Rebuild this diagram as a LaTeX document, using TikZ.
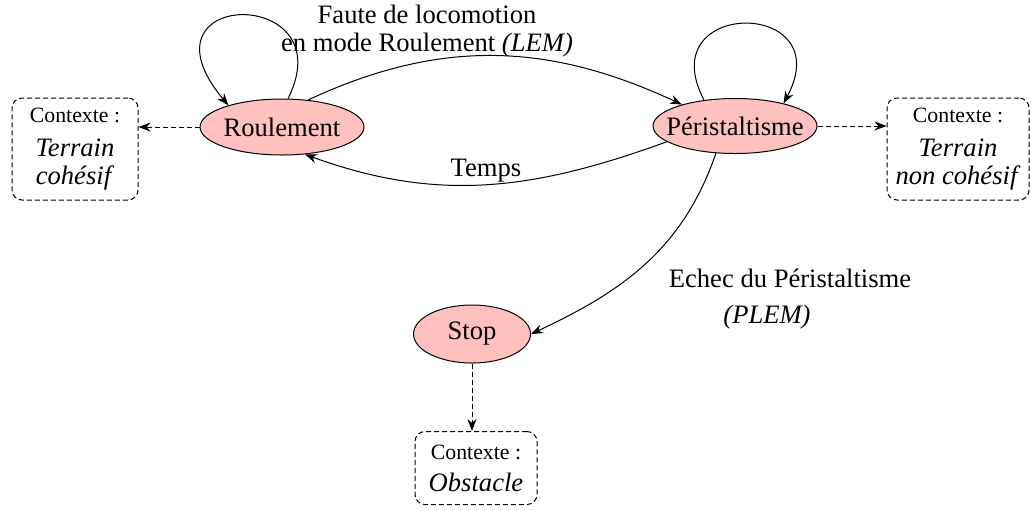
\documentclass[tikz,border=0pt]{standalone}
\usepackage{fontspec}
\setmainfont{Liberation Serif}
\usetikzlibrary{shapes.geometric,arrows.meta}
\definecolor{statepink}{RGB}{255,192,192}
\tikzset{
  state/.style={draw, ellipse, fill=statepink, inner sep=0pt, font=\fontsize{13.3}{16}\selectfont},
  ctx/.style={draw, dash pattern=on 2.5pt off 1.5pt, rounded corners=5pt, align=center, inner sep=0pt, font=\fontsize{13.3}{14}\selectfont},
  ctxlink/.style={->, dash pattern=on 2.5pt off 1.5pt},
  lbl/.style={align=center, font=\fontsize{13.3}{14}\selectfont}
}
\newcommand{\ctxhead}{{\fontsize{10.9}{12}\selectfont Contexte :}}
\begin{document}
\begin{tikzpicture}[x=0.5pt, y=0.5pt, line width=0.5pt, >={Stealth[length=6pt,width=4.5pt]}]
\useasboundingbox (0,0) rectangle (1031,-510);

% etats
\node[state, minimum width=82pt, minimum height=28pt] (rou) at (282,-127) {\makebox[0pt]{Roulement}};
\node[state, minimum width=82pt, minimum height=27.5pt] (per) at (735,-126) {\makebox[0pt]{Péristaltisme}};
\node[state, minimum width=58.5pt, minimum height=29pt] (stop) at (472,-334) {\makebox[0pt]{Stop}};

% contextes
\node[ctx, minimum width=63pt, minimum height=51pt] (ctxl) at (75,-149) {\ctxhead\\[3pt] \textit{Terrain}\\ \textit{cohésif}};
\node[ctx, minimum width=71pt, minimum height=51pt] (ctxr) at (958,-149) {\ctxhead\\[3pt] \textit{Terrain}\\ \textit{non cohésif}};
\node[ctx, minimum width=61pt, minimum height=36.5pt] (ctxb) at (476,-468) {\ctxhead\\[2pt] \textit{Obstacle}};

% transitions
\draw[->] (rou.78) .. controls (345,15) and (130,12) .. (rou.158);
\draw[->] (per.140) .. controls (650,2) and (840,2) .. (per.25);
\draw[->] (rou.46) to[out=25, in=155] (per.158);
\draw[->] (per.193) to[out=200, in=-20] node[lbl, above, inner sep=1pt] (tmp) {Temps} (rou.310);
\draw[->] (per.235) to[out=251, in=25] (stop.east);

\node[lbl] (lem) at (427,-31) {Faute de locomotion\\en mode Roulement \textit{(LEM)}};
\node[lbl] (plem) at (790,-299) {Echec du Péristaltisme\\[4pt]\textit{(PLEM)}\hspace*{23pt}};

% liens de contexte
\draw[ctxlink] (rou.west) -- (rou.west -| ctxl.east);
\draw[ctxlink] (per.east) -- (per.east -| ctxr.west);
\draw[ctxlink] (stop.south) -- (stop.south |- ctxb.north);
\end{tikzpicture}
\end{document}
